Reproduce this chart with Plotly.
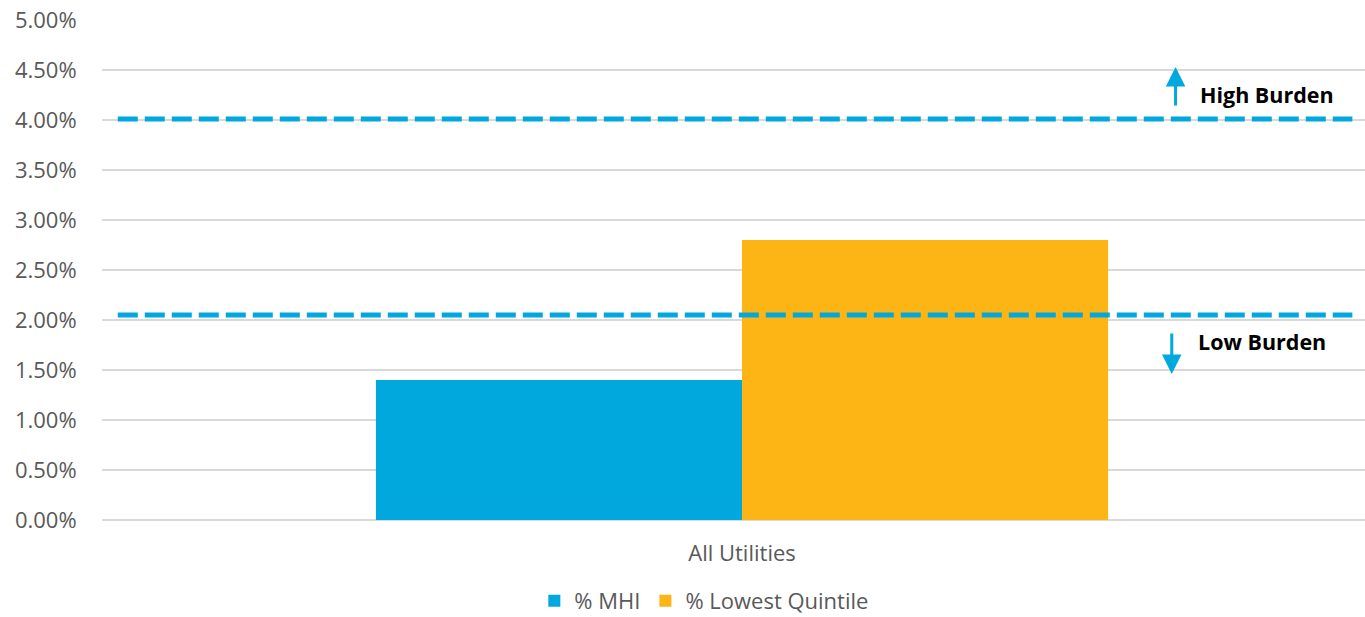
import plotly.graph_objects as go

categories = ["All Utilities"]
mhi_values = [0.0140]
lowest_quintile_values = [0.0280]
series_names = ["% MHI", "% Lowest Quintile"]
high_burden_threshold = 0.0401
low_burden_threshold = 0.0205
y_ticks = [0.0, 0.005, 0.01, 0.015, 0.02, 0.025, 0.03, 0.035, 0.04, 0.045, 0.05]

BLUE = "#00A8DE"
ORANGE = "#FDB515"
GRAY = "#595959"
FONT = "Open Sans"

fig = go.Figure()
fig.add_trace(go.Bar(x=categories, y=mhi_values, name=series_names[0], marker_color=BLUE,
                     marker_line_width=0))
fig.add_trace(go.Bar(x=categories, y=lowest_quintile_values, name=series_names[1], marker_color=ORANGE,
                     marker_line_width=0))

for thr in [high_burden_threshold, low_burden_threshold]:
    fig.add_shape(type="line", xref="paper", yref="y", x0=0.0125, x1=0.99, y0=thr, y1=thr,
                  line=dict(color=BLUE, width=5, dash="20px,7px"))

# arrows
fig.add_annotation(xref="paper", yref="y", x=0.850, y=0.0453, ax=0, ay=40,
                   axref="pixel", ayref="pixel", showarrow=True, arrowhead=2, arrowsize=1.3,
                   arrowwidth=3, arrowcolor=BLUE, text="")
fig.add_annotation(xref="paper", yref="y", x=0.847, y=0.0146, ax=0, ay=-42,
                   axref="pixel", ayref="pixel", showarrow=True, arrowhead=2, arrowsize=1.3,
                   arrowwidth=3, arrowcolor=BLUE, text="")
fig.add_annotation(xref="paper", yref="y", x=(1198 - 102) / 1263, y=0.0426, xanchor="left",
                   yanchor="middle", showarrow=False, text="<b>High Burden</b>",
                   font=dict(family=FONT, size=21.5, color="#000000"))
fig.add_annotation(xref="paper", yref="y", x=(1196 - 102) / 1263, y=0.0179, xanchor="left",
                   yanchor="middle", showarrow=False, text="<b>Low Burden</b>",
                   font=dict(family=FONT, size=21.5, color="#000000"))

fig.update_layout(
    width=1365, height=617,
    margin=dict(l=102, r=0, t=20, b=97),
    paper_bgcolor="white", plot_bgcolor="white",
    barmode="group", bargap=0.428, bargroupgap=0,
    font=dict(family=FONT, size=21, color=GRAY),
    showlegend=True,
    legend=dict(orientation="h", xref="container", yref="container", x=0.516, y=0.026,
                xanchor="center", yanchor="middle", font=dict(size=22, color=GRAY),
                itemwidth=30, traceorder="normal"),
    xaxis=dict(range=[-0.5, 0.4867], showgrid=False, ticks="outside", ticklen=14,
               tickcolor="rgba(0,0,0,0)", showline=False, tickfont=dict(size=22, color=GRAY)),
    yaxis=dict(range=[0, 0.05], tickvals=y_ticks, tickformat=".2%", showgrid=True,
               gridcolor="#D9D9D9", gridwidth=1.5, zeroline=True, zerolinecolor="#D9D9D9",
               zerolinewidth=1.5, ticks="outside", ticklen=20, tickcolor="rgba(0,0,0,0)",
               tickfont=dict(size=22, color=GRAY)),
)

fig.write_html("out.html")
